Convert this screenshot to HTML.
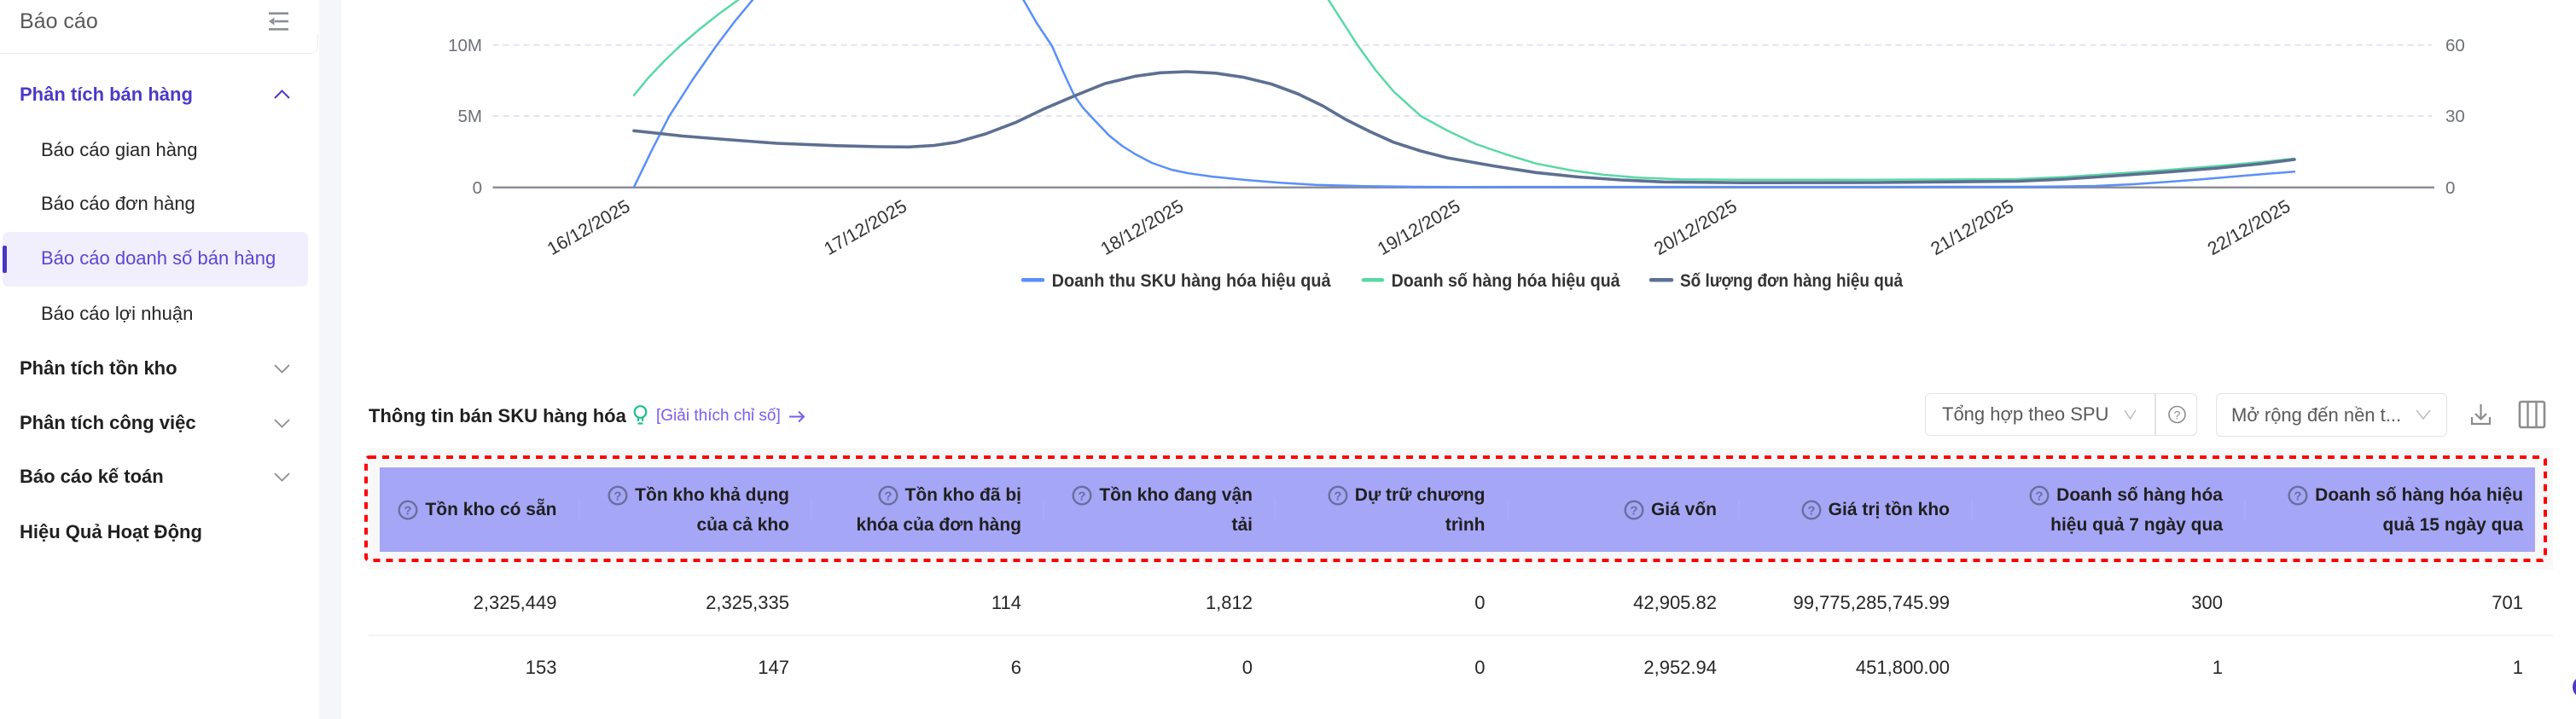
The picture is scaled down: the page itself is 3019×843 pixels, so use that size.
<!DOCTYPE html>
<html><head><meta charset="utf-8">
<style>
*{margin:0;padding:0;box-sizing:border-box}
html,body{width:3019px;height:843px;overflow:hidden;background:#fff;font-family:"Liberation Sans",Arial,sans-serif}
.a{position:absolute;white-space:nowrap}
.t{position:absolute;white-space:nowrap;height:30px;line-height:30px}
.sb{font-size:22px;font-weight:bold;color:#1f1f1f;left:23px}
.si{font-size:22px;color:#262626;left:48px}
.h{position:absolute;white-space:nowrap;height:30px;line-height:30px;font-size:21px;font-weight:bold;color:#1f1f1f;text-align:right}
.h svg{vertical-align:-6px;margin-right:8px}
.d{position:absolute;white-space:nowrap;height:30px;line-height:30px;font-size:22px;color:#262626;text-align:right}
.sel{position:absolute;border:1.5px solid #e3e3e6;border-radius:6px;background:#fff}
</style></head><body>

<!-- Sidebar -->
<div class="a" style="left:374px;top:0;width:26px;height:843px;background:#f5f6fa"></div>
<div class="a" style="left:-2px;top:40px;width:375px;height:23px;border-right:1.5px solid #ededf0;border-bottom:1.5px solid #ededf0;border-bottom-right-radius:8px"></div>
<div class="t" style="left:23px;top:10px;font-size:25px;color:#595959">Báo cáo</div>
<svg class="a" style="left:0;top:0" width="400" height="843">
  <g stroke="#8c8f99" stroke-width="2.6" fill="none">
    <line x1="315" y1="15.7" x2="338" y2="15.7"/>
    <line x1="322" y1="25" x2="338" y2="25"/>
    <line x1="315" y1="34.3" x2="338" y2="34.3"/>
  </g>
  <polygon points="315,25 321.5,20.5 321.5,29.5" fill="#8c8f99"/>
  <polyline points="322,115 330.5,106.5 339,115" fill="none" stroke="#4b39c8" stroke-width="2"/>
  <g fill="none" stroke="#8c8c8c" stroke-width="1.8">
    <polyline points="322,428 330.5,436.5 339,428"/>
    <polyline points="322,492 330.5,500.5 339,492"/>
    <polyline points="322,555 330.5,563.5 339,555"/>
  </g>
</svg>
<div class="t sb" style="top:96px;color:#4b39c8">Phân tích bán hàng</div>
<div class="t si" style="top:161px">Báo cáo gian hàng</div>
<div class="t si" style="top:224px">Báo cáo đơn hàng</div>
<div class="a" style="left:3px;top:272px;width:358px;height:64px;background:#f1effd;border-radius:7px"></div>
<div class="a" style="left:3px;top:288px;width:5px;height:32px;background:#4a35c4;border-radius:2px"></div>
<div class="t si" style="top:288px;color:#5b46d3">Báo cáo doanh số bán hàng</div>
<div class="t si" style="top:353px">Báo cáo lợi nhuận</div>
<div class="t sb" style="top:417px">Phân tích tồn kho</div>
<div class="t sb" style="top:481px">Phân tích công việc</div>
<div class="t sb" style="top:544px">Báo cáo kế toán</div>
<div class="t sb" style="top:609px">Hiệu Quả Hoạt Động</div>

<!-- Chart -->
<svg class="a" style="left:0;top:0" width="3019" height="360" font-family="Liberation Sans, Arial, sans-serif">
  <line x1="577.5" y1="52.7" x2="2850" y2="52.7" stroke="#e1e4f3" stroke-width="2" stroke-dasharray="7 5"/>
  <line x1="577.5" y1="136" x2="2850" y2="136" stroke="#e1e4f3" stroke-width="2" stroke-dasharray="7 5"/>
  <line x1="577.5" y1="219.8" x2="2853" y2="219.8" stroke="#8e8e96" stroke-width="2.5"/>
  <g font-size="20.5" fill="#6e7079">
    <text x="565" y="59.9" text-anchor="end">10M</text>
    <text x="565" y="143.2" text-anchor="end">5M</text>
    <text x="565" y="227" text-anchor="end">0</text>
    <text x="2866" y="59.9">60</text>
    <text x="2866" y="143.2">30</text>
    <text x="2866" y="227">0</text>
  </g>
  <g font-size="21.5" fill="#333" text-anchor="end">
    <text transform="translate(740,246) rotate(-30)">16/12/2025</text>
    <text transform="translate(1064.3,246) rotate(-30)">17/12/2025</text>
    <text transform="translate(1388.6,246) rotate(-30)">18/12/2025</text>
    <text transform="translate(1713,246) rotate(-30)">19/12/2025</text>
    <text transform="translate(2037.2,246) rotate(-30)">20/12/2025</text>
    <text transform="translate(2361.5,246) rotate(-30)">21/12/2025</text>
    <text transform="translate(2685.8,246) rotate(-30)">22/12/2025</text>
  </g>
  <g fill="none" stroke-linejoin="round" stroke-linecap="round">
    <polyline stroke="#5b8ff9" stroke-width="2.5" points="743,219.3 763,178 784,136.7 812,93 840,53 862,24 882,0 900,-24 1000,-130 1185,-22 1199.5,0 1215,27 1233,54 1246,84 1259,112 1269,126 1279,137 1300,159 1315,171 1331,181 1350,191 1373,199 1392,203 1420,207 1460,211 1500,214.3 1542,216.7 1600,218.3 1660,219 1716,219.2 2364,219 2400,218.8 2456,218 2500,216 2540,213.3 2580,210.2 2624,206.5 2660,203.5 2689,201.3"/>
    <polyline stroke="#5ad8a6" stroke-width="2.5" points="743,111.7 760,91 780,70 798,53 820,34 843,16 865,0 882,-14 1200,-200 1540,-20 1557,0 1575,28 1591,53 1612,82 1633,107 1665,136 1696,153 1730,169 1765,181 1800,191.7 1840,199.5 1880,205 1920,208.3 1970,210.2 2040,210.8 2200,210.8 2364,210 2420,207.5 2480,203.5 2540,199.3 2600,194.5 2650,190 2689,186"/>
    <polyline stroke="#5d7092" stroke-width="3.6" points="743,153.3 800,159.5 850,163.5 910,168 980,170.8 1030,172 1065,172.3 1095,170.5 1121,166.7 1155,157 1191,143.3 1225,127 1261,111.7 1295,98 1331,89.3 1360,85.3 1391,84 1425,85.8 1458,90.7 1490,98.5 1521,110 1550,124 1577,140 1605,154 1633,166.7 1665,177 1696,185 1750,194.5 1800,202.3 1850,207.5 1900,211 1950,213.3 2040,214.2 2200,214 2364,212.5 2420,210 2480,206 2540,201.7 2600,197 2650,192 2689,187"/>
  </g>
  <g stroke-linecap="round" stroke-width="4.5">
    <line x1="1199" y1="328.3" x2="1222" y2="328.3" stroke="#5b8ff9"/>
    <line x1="1598" y1="328.3" x2="1620" y2="328.3" stroke="#5ad8a6"/>
    <line x1="1935" y1="328.3" x2="1959" y2="328.3" stroke="#5d7092"/>
  </g>
  <g font-size="21" font-weight="bold" fill="#333">
    <text x="1232.6" y="335.8" textLength="327" lengthAdjust="spacingAndGlyphs">Doanh thu SKU hàng hóa hiệu quả</text>
    <text x="1630.6" y="335.8" textLength="268" lengthAdjust="spacingAndGlyphs">Doanh số hàng hóa hiệu quả</text>
    <text x="1969" y="335.8" textLength="261" lengthAdjust="spacingAndGlyphs">Số lượng đơn hàng hiệu quả</text>
  </g>
</svg>

<!-- Title row -->
<div class="t" style="left:432px;top:473px;font-size:22px;font-weight:bold;color:#1f1f1f">Thông tin bán SKU hàng hóa</div>
<svg class="a" style="left:738px;top:472px" width="26" height="30">
  <circle cx="12.5" cy="11" r="6.8" fill="none" stroke="#19c08e" stroke-width="2.2"/>
  <line x1="10" y1="18" x2="10" y2="22" stroke="#19c08e" stroke-width="2"/>
  <line x1="15" y1="18" x2="15" y2="22" stroke="#19c08e" stroke-width="2"/>
  <line x1="9.5" y1="24.5" x2="15.5" y2="24.5" stroke="#19c08e" stroke-width="2.2"/>
</svg>
<div class="t" style="left:769px;top:473px;font-size:19px;color:#7a5cf0">[Giải thích chỉ số]</div>
<svg class="a" style="left:923px;top:480px" width="22" height="18">
  <line x1="2" y1="8.5" x2="19" y2="8.5" stroke="#7a5cf0" stroke-width="2"/>
  <polyline points="13,2.5 19,8.5 13,14.5" fill="none" stroke="#7a5cf0" stroke-width="2"/>
</svg>

<!-- Toolbar -->
<div class="sel" style="left:2256px;top:461px;width:319px;height:50px"></div>
<div class="a" style="left:2525px;top:462px;width:1.5px;height:48px;background:#e3e3e6"></div>
<div class="t" style="left:2276px;top:471px;font-size:22px;color:#595959">Tổng hợp theo SPU</div>
<div class="sel" style="left:2597px;top:461px;width:271px;height:51px"></div>
<div class="t" style="left:2615px;top:472px;font-size:22px;color:#595959">Mở rộng đến nền t...</div>
<svg class="a" style="left:2480px;top:455px" width="539" height="60">
  <polyline points="10,26 16.5,36 23,26" fill="none" stroke="#bfbfbf" stroke-width="1.6"/>
  <circle cx="71.5" cy="31" r="9.5" fill="none" stroke="#8c8c8c" stroke-width="1.6"/>
  <text x="71.5" y="36.5" font-size="14" text-anchor="middle" fill="#8c8c8c" font-family="Liberation Sans, Arial, sans-serif">?</text>
  <polyline points="352,26 360,36 368,26" fill="none" stroke="#bfbfbf" stroke-width="1.6"/>
  <g fill="none" stroke="#8c8c8c" stroke-width="2.2">
    <line x1="427.5" y1="19" x2="427.5" y2="36"/>
    <polyline points="421,30 427.5,36.5 434,30"/>
    <polyline points="417,34 417,42 438,42 438,34"/>
    <rect x="473" y="16" width="29" height="30" rx="2" stroke-width="2.6"/>
    <line x1="482.5" y1="16" x2="482.5" y2="46" stroke-width="2.4"/>
    <line x1="492.5" y1="16" x2="492.5" y2="46" stroke-width="2.4"/>
  </g>
</svg>

<!-- Table -->
<div class="a" style="left:432px;top:525px;width:2560px;height:143px;background:#f8f8f9"></div>
<div class="a" style="left:445px;top:548px;width:2526px;height:99px;background:#a5a6f6"></div>
<svg class="a" style="left:0;top:0" width="3019" height="843">
  <g stroke="#abacf7" stroke-width="1.5">
    <line x1="679" y1="585" x2="679" y2="610"/>
    <line x1="951" y1="585" x2="951" y2="610"/>
    <line x1="1223" y1="585" x2="1223" y2="610"/>
    <line x1="1494" y1="585" x2="1494" y2="610"/>
    <line x1="1767" y1="585" x2="1767" y2="610"/>
    <line x1="2038" y1="585" x2="2038" y2="610"/>
    <line x1="2311" y1="585" x2="2311" y2="610"/>
    <line x1="2631" y1="585" x2="2631" y2="610"/>
  </g>
  <rect x="429" y="536" width="2554" height="121" rx="4" fill="none" stroke="#ff0000" stroke-width="4" stroke-dasharray="8 7"/>
  <line x1="432" y1="745" x2="2992" y2="745" stroke="#efeff1" stroke-width="1.5"/>
  <circle cx="3028" cy="805.5" r="11" fill="none" stroke="#4a3ac6" stroke-width="4"/>
</svg>

<!-- Header cells -->
<div class="h" style="right:2366.5px;top:583px"><svg width="24" height="24" viewBox="0 0 24 24"><circle cx="12" cy="12" r="10.3" fill="none" stroke="#6b6e9e" stroke-width="2.4"/><text x="12" y="17.5" font-size="15" font-weight="bold" text-anchor="middle" fill="#6b6e9e" font-family="Liberation Sans, Arial, sans-serif">?</text></svg>Tồn kho có sẵn</div>

<div class="h" style="right:2094px;top:566px"><svg width="24" height="24" viewBox="0 0 24 24"><circle cx="12" cy="12" r="10.3" fill="none" stroke="#6b6e9e" stroke-width="2.4"/><text x="12" y="17.5" font-size="15" font-weight="bold" text-anchor="middle" fill="#6b6e9e" font-family="Liberation Sans, Arial, sans-serif">?</text></svg>Tồn kho khả dụng</div>
<div class="h" style="right:2094px;top:601px">của cả kho</div>

<div class="h" style="right:1822px;top:566px"><svg width="24" height="24" viewBox="0 0 24 24"><circle cx="12" cy="12" r="10.3" fill="none" stroke="#6b6e9e" stroke-width="2.4"/><text x="12" y="17.5" font-size="15" font-weight="bold" text-anchor="middle" fill="#6b6e9e" font-family="Liberation Sans, Arial, sans-serif">?</text></svg>Tồn kho đã bị</div>
<div class="h" style="right:1822px;top:601px">khóa của đơn hàng</div>

<div class="h" style="right:1551px;top:566px"><svg width="24" height="24" viewBox="0 0 24 24"><circle cx="12" cy="12" r="10.3" fill="none" stroke="#6b6e9e" stroke-width="2.4"/><text x="12" y="17.5" font-size="15" font-weight="bold" text-anchor="middle" fill="#6b6e9e" font-family="Liberation Sans, Arial, sans-serif">?</text></svg>Tồn kho đang vận</div>
<div class="h" style="right:1551px;top:601px">tải</div>

<div class="h" style="right:1278.5px;top:566px"><svg width="24" height="24" viewBox="0 0 24 24"><circle cx="12" cy="12" r="10.3" fill="none" stroke="#6b6e9e" stroke-width="2.4"/><text x="12" y="17.5" font-size="15" font-weight="bold" text-anchor="middle" fill="#6b6e9e" font-family="Liberation Sans, Arial, sans-serif">?</text></svg>Dự trữ chương</div>
<div class="h" style="right:1278.5px;top:601px">trình</div>

<div class="h" style="right:1007px;top:583px"><svg width="24" height="24" viewBox="0 0 24 24"><circle cx="12" cy="12" r="10.3" fill="none" stroke="#6b6e9e" stroke-width="2.4"/><text x="12" y="17.5" font-size="15" font-weight="bold" text-anchor="middle" fill="#6b6e9e" font-family="Liberation Sans, Arial, sans-serif">?</text></svg>Giá vốn</div>

<div class="h" style="right:734px;top:583px"><svg width="24" height="24" viewBox="0 0 24 24"><circle cx="12" cy="12" r="10.3" fill="none" stroke="#6b6e9e" stroke-width="2.4"/><text x="12" y="17.5" font-size="15" font-weight="bold" text-anchor="middle" fill="#6b6e9e" font-family="Liberation Sans, Arial, sans-serif">?</text></svg>Giá trị tồn kho</div>

<div class="h" style="right:414px;top:566px"><svg width="24" height="24" viewBox="0 0 24 24"><circle cx="12" cy="12" r="10.3" fill="none" stroke="#6b6e9e" stroke-width="2.4"/><text x="12" y="17.5" font-size="15" font-weight="bold" text-anchor="middle" fill="#6b6e9e" font-family="Liberation Sans, Arial, sans-serif">?</text></svg>Doanh số hàng hóa</div>
<div class="h" style="right:414px;top:601px">hiệu quả 7 ngày qua</div>

<div class="h" style="right:62px;top:566px"><svg width="24" height="24" viewBox="0 0 24 24"><circle cx="12" cy="12" r="10.3" fill="none" stroke="#6b6e9e" stroke-width="2.4"/><text x="12" y="17.5" font-size="15" font-weight="bold" text-anchor="middle" fill="#6b6e9e" font-family="Liberation Sans, Arial, sans-serif">?</text></svg>Doanh số hàng hóa hiệu</div>
<div class="h" style="right:62px;top:601px">quả 15 ngày qua</div>

<!-- Data rows -->
<div class="d" style="right:2366.5px;top:691.5px">2,325,449</div>
<div class="d" style="right:2094px;top:691.5px">2,325,335</div>
<div class="d" style="right:1822px;top:691.5px">114</div>
<div class="d" style="right:1551px;top:691.5px">1,812</div>
<div class="d" style="right:1278.5px;top:691.5px">0</div>
<div class="d" style="right:1007px;top:691.5px">42,905.82</div>
<div class="d" style="right:734px;top:691.5px">99,775,285,745.99</div>
<div class="d" style="right:414px;top:691.5px">300</div>
<div class="d" style="right:62px;top:691.5px">701</div>

<div class="d" style="right:2366.5px;top:767.5px">153</div>
<div class="d" style="right:2094px;top:767.5px">147</div>
<div class="d" style="right:1822px;top:767.5px">6</div>
<div class="d" style="right:1551px;top:767.5px">0</div>
<div class="d" style="right:1278.5px;top:767.5px">0</div>
<div class="d" style="right:1007px;top:767.5px">2,952.94</div>
<div class="d" style="right:734px;top:767.5px">451,800.00</div>
<div class="d" style="right:414px;top:767.5px">1</div>
<div class="d" style="right:62px;top:767.5px">1</div>

</body></html>
